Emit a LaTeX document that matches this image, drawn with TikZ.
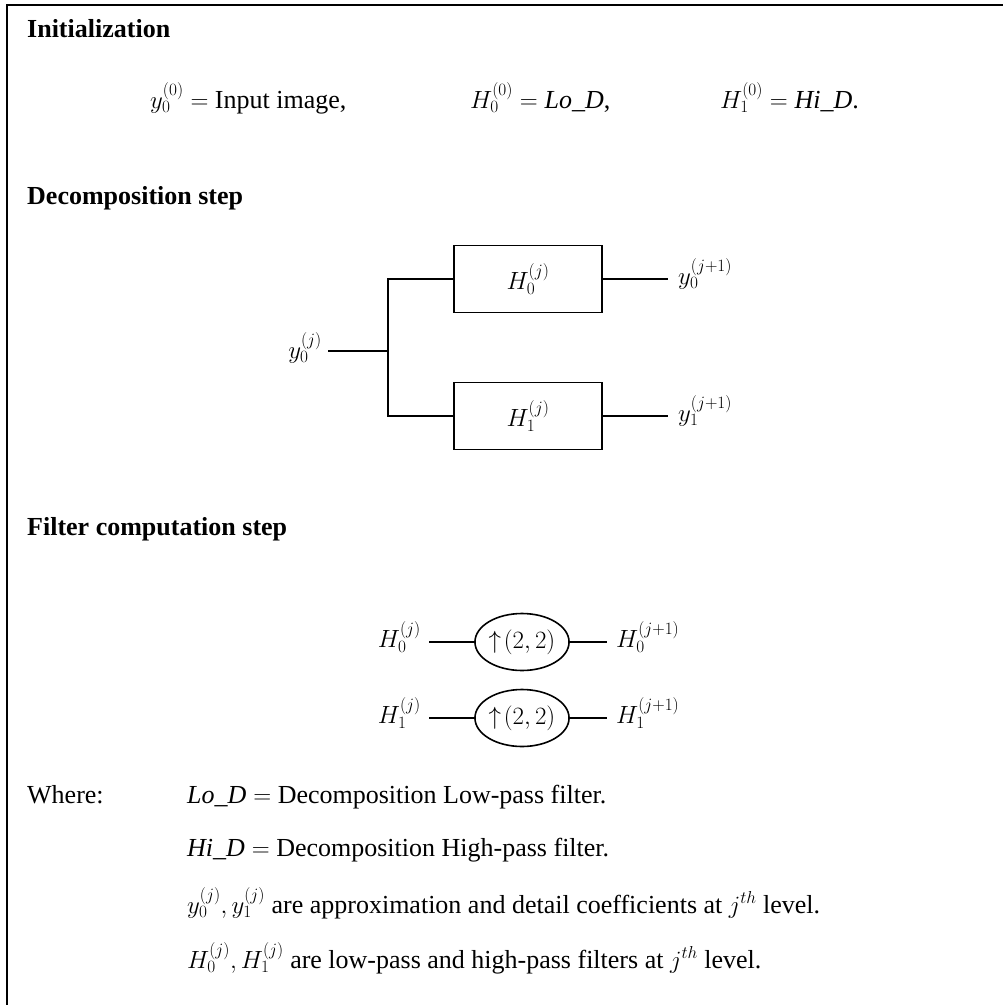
\documentclass[tikz,border=0pt]{standalone}
\usepackage{fontspec}
\setmainfont{Liberation Serif}
\usetikzlibrary{shapes.geometric}
\begin{document}
\begin{tikzpicture}[x=1pt, y=-1pt, font=\fontsize{26}{31}\selectfont,
  txt/.style={anchor=base west, inner sep=0pt},
  heading/.style={txt, font=\fontsize{26}{31}\selectfont\bfseries},
  filterbox/.style={draw, line width=1.6pt, minimum width=148pt, minimum height=67pt},
  upsample/.style={draw, line width=1.6pt, ellipse, minimum width=90pt, minimum height=57pt, inner sep=0pt},
  wire/.style={line width=1.6pt}]
  \useasboundingbox (0,0) rectangle (1003,1005);
  % frame
  \draw[line width=2pt] (1003,5) -- (7,5) -- (7,1005);
  % initialization
  \node[heading] (init) at (27,37) {Initialization};
  \node[txt] (inity) at (150,108) {$y_0^{(0)} =$ Input image,};
  \node[txt] (initlo) at (470,108) {$H_0^{(0)} = \mathit{Lo\_D}$,};
  \node[txt] (inithi) at (720,108) {$H_1^{(0)} = \mathit{Hi\_D}$.};
  % decomposition step
  \node[heading] (decomp) at (27,204) {Decomposition step};
  \node[filterbox] (hzero) at (528,279) {$H_0^{(j)}$};
  \node[filterbox] (hone) at (528,416) {$H_1^{(j)}$};
  \node[anchor=east, inner sep=6pt] (yin) at (328,348) {$y_0^{(j)}$};
  \coordinate (split) at (388,351);
  \node[anchor=west, inner sep=10pt] (yzero) at (668,274) {$y_0^{(j+1)}$};
  \node[anchor=west, inner sep=10pt] (yone) at (668,411) {$y_1^{(j+1)}$};
  \draw[wire] (yin.east |- split) -- (split);
  \draw[wire] (split) |- (hzero.west);
  \draw[wire] (split) |- (hone.west);
  \draw[wire] (hzero.east) -- (hzero.east -| yzero.west);
  \draw[wire] (hone.east) -- (hone.east -| yone.west);
  % filter computation step
  \node[heading] (filt) at (27,535) {Filter computation step};
  \foreach \i/\y in {0/642, 1/718}
  {
    \node[upsample] (up\i) at (522,\y) {$\uparrow\!(2,2)$};
    \node[anchor=east, inner sep=8pt] (hin\i) at (429,\y-5) {$H_\i^{(j)}$};
    \node[anchor=west, inner sep=9pt] (hout\i) at (607,\y-5) {$H_\i^{(j+1)}$};
    \draw[wire] (hin\i.east |- up\i.west) -- (up\i.west);
    \draw[wire] (up\i.east) -- (up\i.east -| hout\i.west);
  }
  % where
  \node[txt] (where) at (27,803) {Where:};
  \node[txt] (wlo) at (187,803) {$\mathit{Lo\_D} =$ Decomposition Low-pass filter.};
  \node[txt] (whi) at (187,856) {$\mathit{Hi\_D} =$ Decomposition High-pass filter.};
  \node[txt] (wy) at (187,913) {$y_0^{(j)}, y_1^{(j)}$ are approximation and detail coefficients at $j^{th}$ level.};
  \node[txt] (wh) at (187,968) {$H_0^{(j)}, H_1^{(j)}$ are low-pass and high-pass filters at $j^{th}$ level.};
\end{tikzpicture}
\end{document}
